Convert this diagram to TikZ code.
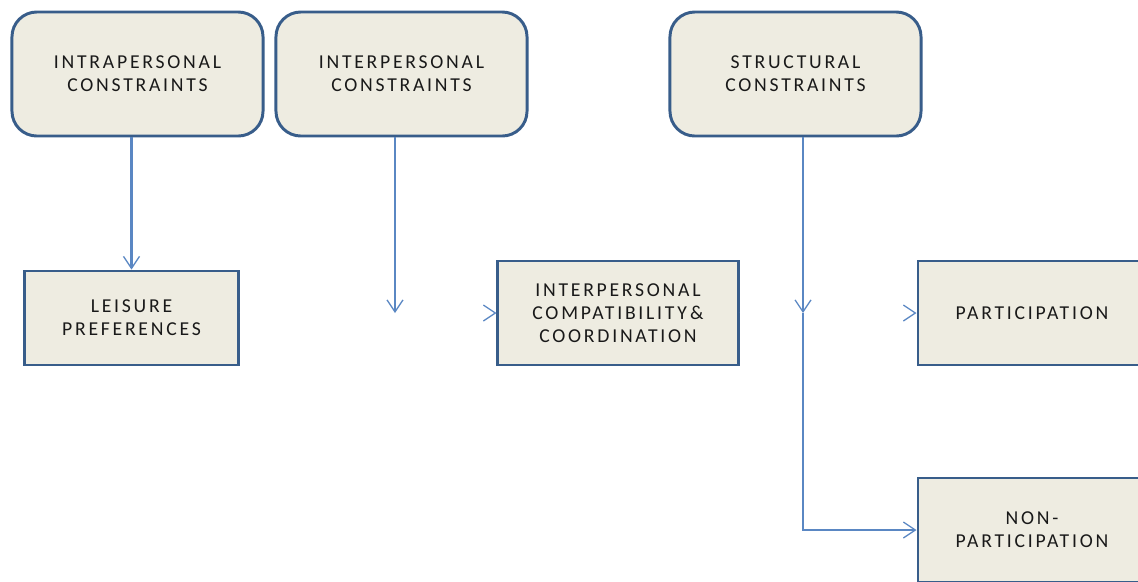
\documentclass[tikz,border=0pt]{standalone}
\usepackage{fontspec}
\usepackage{tikz}
\usetikzlibrary{arrows.meta,positioning}
\newfontfamily\boxfont{Carlito}[LetterSpace=14]
\definecolor{BoxEdge}{RGB}{56, 93, 138}
\definecolor{BoxFill}{RGB}{238, 236, 225}
\definecolor{LinkBlue}{RGB}{90, 135, 195}

\begin{document}
\begin{tikzpicture}[x=0.025cm, y=-0.025cm,
  font=\boxfont\fontsize{14}{16.3}\selectfont,
  cons/.style={draw=BoxEdge, line width=2.1pt, rounded corners=0.62cm, fill=BoxFill,
               align=center, text=black!90, minimum width=6.275cm, minimum height=3.1cm},
  blk/.style={draw=BoxEdge, line width=2.1pt, fill=BoxFill, align=center, text=black!90,
              minimum width=6cm, minimum height=2.6cm},
  lnk/.style={draw=LinkBlue, line width=1.5pt, -{Straight Barb[length=3mm, width=4mm, line width=0.9pt]}},
  ghost/.style={draw=white, line width=1.5pt,
                -{Straight Barb[length=3mm, width=4mm, line width=0.9pt, color=LinkBlue]}}]

  \useasboundingbox (0,0) rectangle (1138,581);

  % --- constraint boxes along the top ---
  \node[cons] (intra)  at (137.5,74) {INTRAPERSONAL\\CONSTRAINTS};
  \node[cons] (inter)  at (401.5,74) {INTERPERSONAL\\CONSTRAINTS};
  \node[cons] (struct) at (795.5,74) {STRUCTURAL\\CONSTRAINTS};

  % --- middle row ---
  \node[blk, minimum width=5.325cm, minimum height=2.35cm] (pref) at (131.5,318) {LEISURE\\PREFERENCES};
  \node[blk] (compat) at (618,313) {INTERPERSONAL\\COMPATIBILITY\,\&\\COORDINATION};
  \node[blk, minimum width=5.7cm] (part) at (1032,313) {PARTICIPATION};
  \node[blk, minimum width=5.7cm] (nonpart) at (1032,530) {NON-\\PARTICIPATION};

  \coordinate (j1) at (395,313);
  \coordinate (j2) at (803,313);

  % --- hidden links, only the heads show ---
  \draw[ghost] (pref.east |- j1) -- (compat.west |- j1);
  \draw[ghost] (compat.east |- j2) -- (part.west |- j2);

  % --- visible links ---
  \draw[lnk] (intra.south -| pref.north) -- (pref.north);
  \draw[lnk] (inter.south -| j1) -- (j1);
  \draw[lnk] (struct.south -| j2) -- (j2);
  \draw[lnk] (j2) |- (nonpart.west);
\end{tikzpicture}
\end{document}
